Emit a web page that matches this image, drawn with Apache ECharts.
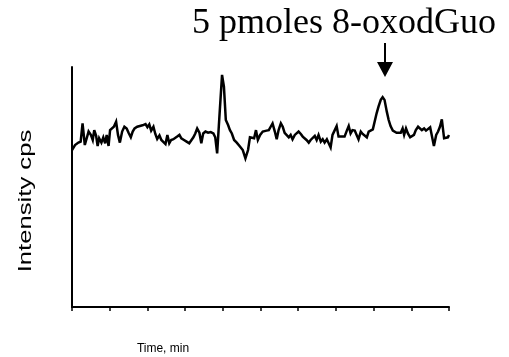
<!DOCTYPE html>
<html>
<head>
<meta charset="utf-8">
<script src="https://cdn.jsdelivr.net/npm/echarts@6/dist/echarts.min.js"></script>
<style>
  html, body { margin: 0; padding: 0; background: #fff; }
  #chart { width: 509px; height: 357px; }
</style>
</head>
<body>
<div id="chart"></div>
<script>
// Ion trace: retention time (min, relative scale) and intensity (relative cps)
const times = [
  0.00, 0.08, 0.17, 0.23, 0.28, 0.34, 0.39, 0.44, 0.50, 0.55, 0.59, 0.64, 0.68, 0.72, 0.78, 0.83,
  0.88, 0.92, 0.97, 1.01, 1.06, 1.11, 1.17, 1.22, 1.27, 1.33, 1.39, 1.45, 1.50, 1.56, 1.61, 1.66,
  1.73, 1.80, 1.87, 1.95, 2.00, 2.05, 2.10, 2.16, 2.21, 2.26, 2.32, 2.37, 2.42, 2.48, 2.53, 2.58,
  2.63, 2.69, 2.74, 2.79, 2.85, 2.90, 2.97, 3.04, 3.11, 3.17, 3.22, 3.27, 3.32, 3.38, 3.43, 3.48,
  3.54, 3.61, 3.68, 3.75, 3.80, 3.85, 3.91, 3.98, 4.03, 4.08, 4.14, 4.19, 4.24, 4.30, 4.37, 4.46,
  4.53, 4.60, 4.67, 4.72, 4.77, 4.83, 4.88, 4.93, 4.99, 5.06, 5.11, 5.16, 5.22, 5.27, 5.32, 5.38,
  5.43, 5.48, 5.54, 5.59, 5.64, 5.69, 5.75, 5.80, 5.85, 5.91, 5.96, 6.01, 6.07, 6.12, 6.17, 6.22,
  6.28, 6.33, 6.38, 6.44, 6.49, 6.54, 6.60, 6.65, 6.70, 6.76, 6.81, 6.86, 6.91, 6.97, 7.02, 7.07,
  7.13, 7.18, 7.23, 7.29, 7.34, 7.39, 7.44, 7.50, 7.55, 7.60, 7.66, 7.71, 7.76, 7.82, 7.87, 7.92,
  7.98, 8.03, 8.08, 8.13, 8.19, 8.24, 8.29, 8.35, 8.40, 8.45, 8.51, 8.56, 8.61, 8.66, 8.72, 8.77,
  8.81, 8.86, 8.91, 8.97, 9.02, 9.07, 9.12, 9.18, 9.23, 9.28, 9.34, 9.39, 9.44, 9.50, 9.55, 9.60,
  9.66, 9.71, 9.76, 9.81, 9.87, 9.92, 9.97, 10.00
];
const intensity = [
  65.4, 67.5, 68.5, 68.9, 76.5, 67.5, 70.3, 73.1, 71.7, 69.6, 73.7, 71.3, 67.1, 70.3, 68.5, 70.7,
  68.2, 71.7, 67.1, 73.7, 73.1, 75.1, 77.2, 71.7, 68.5, 73.1, 75.1, 74.4, 72.6, 70.7, 73.1, 74.4,
  75.1, 75.4, 75.7, 76.2, 74.9, 76.1, 73.5, 75.1, 72.1, 70.0, 71.5, 69.6, 70.3, 67.9, 71.7, 68.2,
  69.6, 69.9, 70.7, 71.0, 71.7, 70.3, 69.6, 68.9, 68.2, 69.6, 70.7, 72.3, 74.4, 72.6, 68.2, 72.3,
  73.1, 72.6, 72.9, 72.3, 70.7, 64.0, 79.3, 96.7, 91.8, 77.9, 75.8, 73.7, 72.3, 69.6, 68.5, 66.8,
  65.4, 61.9, 65.4, 70.7, 71.3, 70.3, 73.7, 69.6, 71.7, 73.1, 72.6, 73.5, 73.7, 75.1, 76.5, 73.1,
  69.9, 73.7, 76.5, 75.1, 72.6, 73.1, 70.7, 71.7, 69.9, 71.7, 72.1, 73.1, 72.1, 71.0, 70.3, 69.6,
  68.5, 69.6, 70.3, 71.3, 69.6, 71.7, 68.9, 69.9, 68.5, 69.9, 69.3, 66.5, 71.7, 73.7, 75.4, 71.0,
  71.0, 71.3, 71.0, 73.5, 75.4, 72.3, 73.7, 73.5, 71.7, 69.9, 73.1, 72.1, 71.7, 70.7, 73.1, 73.7,
  74.0, 74.4, 80.7, 83.5, 86.3, 87.4, 86.3, 81.4, 77.9, 75.4, 73.5, 73.1, 72.6, 72.1, 72.6, 74.4,
  71.7, 74.4, 72.3, 70.7, 70.3, 71.7, 73.7, 75.1, 74.4, 73.7, 74.4, 73.5, 74.0, 74.9, 74.4, 67.1,
  71.7, 73.1, 75.1, 78.2, 70.3, 69.6, 70.7, 71.7
];
// Annotated analyte peak
const peakLabel = '5 pmoles 8-oxodGuo';
const peakTime = 8.24;
const peakIntensity = 87.4;

const chart = echarts.init(document.getElementById('chart'), null, { renderer: 'canvas' });

chart.setOption({
  animation: false,
  backgroundColor: '#ffffff',
  grid: { left: 72, right: 60, top: 67, bottom: 50 },
  xAxis: {
    type: 'value',
    min: 0,
    max: 10,
    interval: 1,
    axisLine: { show: true, onZero: false, lineStyle: { color: '#000', width: 2 } },
    axisTick: { show: true, inside: false, length: 4, lineStyle: { color: '#000', width: 1.5 } },
    axisLabel: { show: false },
    splitLine: { show: false }
  },
  yAxis: {
    type: 'value',
    min: 0,
    max: 100,
    axisLine: { show: true, onZero: false, lineStyle: { color: '#000', width: 2 } },
    axisTick: { show: false },
    axisLabel: { show: false },
    splitLine: { show: false }
  },
  series: [{
    type: 'line',
    data: times.map((t, i) => [t, intensity[i]]),
    showSymbol: false,
    clip: false,
    lineStyle: { color: '#000', width: 2.5, join: 'miter', miterLimit: 4 },
    z: 3
  }]
});

// Peak annotation: title text and arrow placed above the peak
const tip = chart.convertToPixel({ gridIndex: 0 }, [peakTime, peakIntensity]);
const ax = Math.round(tip[0]) + 2;
chart.setOption({
  graphic: [
    {
      type: 'text',
      left: 192,
      top: 6,
      style: {
        text: peakLabel,
        font: '36px "Liberation Serif", "Times New Roman", serif',
        fill: '#000'
      }
    },
    {
      type: 'line',
      shape: { x1: ax, y1: 43, x2: ax, y2: 64 },
      style: { stroke: '#000', lineWidth: 2 }
    },
    {
      type: 'polygon',
      shape: { points: [[ax - 8, 62], [ax + 8, 62], [ax, 77]] },
      style: { fill: '#000' }
    },
    {
      type: 'text',
      x: 26,
      y: 201,
      rotation: Math.PI / 2,
      scaleX: 1.35,
      style: {
        text: 'Intensity cps',
        font: '19px "Liberation Sans", Arial, sans-serif',
        fill: '#000',
        align: 'center',
        verticalAlign: 'middle'
      }
    },
    {
      type: 'text',
      x: 163,
      y: 349,
      style: {
        text: 'Time, min',
        font: '12px "Liberation Sans", Arial, sans-serif',
        fill: '#000',
        align: 'center',
        verticalAlign: 'middle'
      }
    }
  ]
});
</script>
</body>
</html>
